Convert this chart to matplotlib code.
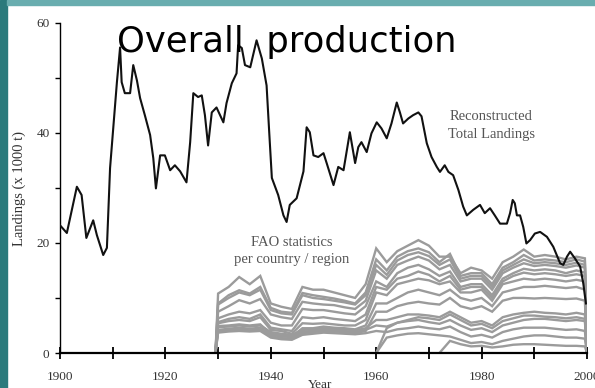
import numpy as np
import matplotlib
matplotlib.use("Agg")
import matplotlib.pyplot as plt
from matplotlib.patches import Rectangle

# reconstructed total landings (x 1000 t)
total_years = [1900, 1901.3, 1903.2, 1904.1, 1905, 1906.3, 1907, 1908.2, 1908.9, 1909.5,
               1910.1, 1910.8, 1911.4, 1911.7, 1912.3, 1913.3, 1913.9, 1914.6, 1915.2, 1916.1,
               1917.1, 1917.7, 1918.2, 1919, 1919.9, 1920.9, 1921.8, 1922.8, 1924, 1924.7,
               1925.3, 1926.2, 1926.9, 1927.5, 1928.1, 1928.8, 1929.7, 1931, 1931.6, 1932.6,
               1933.5, 1933.8, 1934.5, 1935.1, 1936.1, 1937.3, 1938.3, 1939.2, 1939.7, 1940.2,
               1941.4, 1942.4, 1943, 1943.6, 1944.9, 1946.2, 1946.8, 1947.4, 1948.1, 1949,
               1950, 1950.6, 1951.9, 1952.8, 1953.8, 1955, 1956, 1956.6, 1957.2, 1958.2,
               1959.1, 1960.1, 1961, 1962, 1962.9, 1963.9, 1964.5, 1965.1, 1966.1, 1967,
               1968, 1968.6, 1969.6, 1970.5, 1971.5, 1972.1, 1973, 1973.7, 1974.6, 1975.6,
               1976.5, 1977.2, 1978.4, 1979.7, 1980.6, 1981.6, 1982.5, 1983.5, 1984.8, 1985.4,
               1985.9, 1986.3, 1986.7, 1987.3, 1987.9, 1988.5, 1989.2, 1990.1, 1991.1, 1992.4,
               1993.6, 1994.9, 1995.5, 1996.2, 1996.8, 1997.7, 1998.7, 1999.3, 1999.8]
total_landings = [23.2, 21.8, 30.2, 28.7, 20.9, 24.1, 21.4, 17.8, 19.1, 33.6,
                  40.8, 49.2, 55.5, 49.2, 47.2, 47.2, 52.3, 49.5, 46.3, 43.2,
                  39.6, 35.4, 29.9, 35.9, 35.9, 33.2, 34.1, 33.0, 31.0, 38.3,
                  47.2, 46.5, 46.8, 43.2, 37.7, 43.7, 44.6, 41.9, 45.4, 49.0,
                  50.8, 55.9, 55.4, 52.3, 51.9, 56.8, 53.5, 48.6, 40.1, 31.8,
                  28.7, 25.0, 23.8, 26.9, 28.1, 33.0, 41.0, 40.1, 35.9, 35.6,
                  36.3, 34.5, 30.5, 33.8, 33.2, 40.1, 34.5, 37.4, 38.3, 36.5,
                  39.9, 41.9, 40.8, 39.0, 41.7, 45.5, 43.7, 41.7, 42.6, 43.2,
                  43.7, 43.0, 38.1, 35.6, 33.8, 32.9, 34.1, 32.9, 32.3, 29.6,
                  26.6, 25.0, 26.0, 26.9, 25.4, 26.3, 25.0, 23.5, 23.5, 25.4,
                  27.8, 27.2, 25.0, 25.0, 22.9, 19.9, 20.5, 21.7, 22.0, 21.1,
                  19.3, 16.3, 16.0, 17.5, 18.4, 17.2, 15.7, 12.6, 9.0]

# FAO statistics, one line per country / region
fao_years = [1929.5, 1930, 1932, 1934, 1936, 1938, 1940, 1942, 1944, 1946,
             1948, 1950, 1952, 1954, 1956, 1958, 1960, 1962, 1964, 1966,
             1968, 1970, 1972, 1974, 1976, 1978, 1980, 1982, 1984, 1986,
             1988, 1990, 1992, 1994, 1996, 1998, 1999.6, 2000]
nan = np.nan
fao_1 = [0, 10.8, 12.0, 13.8, 12.5, 14.0, 9.0, 8.4, 8.0, 12.0, 11.5, 11.5, 11.0, 10.5, 10.0, 12.5, 19.0, 16.5, 18.5,
         19.5, 20.5, 19.5, 17.5, 17.5, 14.5, 15.5, 15.0, 13.5, 16.5, 17.5, 18.8, 17.5, 17.8, 17.5, 17.0, 17.5, 17.2, 0]
fao_2 = [0, 9.0, 10.5, 11.4, 10.8, 12.0, 8.2, 7.5, 7.3, 10.9, 10.5, 10.2, 9.9, 9.5, 9.0, 11.0, 17.0, 15.0, 17.5,
         18.5, 19.0, 18.3, 16.5, 18.0, 14.0, 14.5, 14.5, 12.5, 15.5, 16.5, 17.8, 16.8, 17.0, 16.8, 16.5, 17.0, 16.6, 0]
fao_3 = [0, 8.8, 10.0, 11.0, 10.5, 11.5, 7.8, 7.2, 7.0, 10.5, 10.0, 9.8, 9.5, 9.2, 8.8, 10.5, 16.0, 14.2, 16.8,
         17.8, 18.3, 17.6, 16.0, 17.0, 13.5, 14.0, 14.0, 12.0, 15.0, 16.0, 17.0, 16.3, 16.5, 16.3, 16.0, 16.4, 16.0, 0]
fao_4 = [0, 7.5, 8.5, 9.6, 9.0, 9.8, 7.0, 6.5, 6.2, 9.3, 9.0, 8.8, 8.7, 8.3, 8.0, 9.5, 15.0, 13.5, 16.0,
         16.8, 17.5, 16.8, 15.2, 16.0, 13.0, 13.5, 13.5, 11.5, 14.5, 15.5, 16.3, 15.8, 16.0, 15.8, 15.5, 15.9, 15.5, 0]
fao_5 = [0, 6.3, 7.0, 7.5, 7.2, 7.8, 5.5, 5.0, 5.0, 8.0, 7.8, 7.8, 7.5, 7.2, 7.0, 8.5, 13.0, 12.0, 14.5,
         15.5, 16.0, 15.2, 14.0, 14.8, 12.0, 12.5, 12.5, 10.5, 13.5, 14.5, 15.3, 15.0, 15.2, 15.0, 14.5, 15.0, 14.6, 0]
fao_6 = [0, 5.6, 6.2, 6.5, 6.2, 7.0, 4.6, 4.3, 4.0, 6.5, 6.3, 6.5, 6.2, 6.0, 5.8, 7.0, 12.0, 11.5, 13.5,
         14.0, 14.8, 14.2, 13.0, 14.0, 11.5, 12.0, 12.0, 10.0, 13.0, 14.0, 14.6, 14.3, 14.5, 14.3, 14.0, 14.3, 14.0, 0]
fao_7 = [0, 5.4, 5.8, 6.0, 5.8, 6.5, 4.2, 4.0, 3.5, 5.4, 5.3, 5.4, 5.2, 5.0, 5.0, 6.0, 11.0, 10.5, 12.5,
         13.0, 13.5, 13.2, 12.5, 13.0, 11.0, 11.0, 11.5, 9.5, 12.5, 13.0, 13.5, 13.3, 13.5, 13.3, 13.0, 13.3, 13.0, 0]
fao_8 = [0, 4.9, 5.0, 5.2, 5.0, 5.2, 3.5, 3.2, 3.0, 4.5, 4.5, 4.8, 4.6, 4.5, 4.3, 5.0, 9.0, 9.0, 10.0,
         11.0, 11.5, 11.0, 10.5, 11.5, 10.0, 9.5, 10.0, 8.5, 11.0, 11.5, 12.0, 12.0, 12.2, 12.0, 11.8, 12.0, 11.5, 0]
fao_9 = [0, 4.0, 4.2, 4.3, 4.1, 4.3, 3.0, 2.7, 2.6, 3.6, 3.8, 4.0, 3.9, 3.8, 3.6, 4.0, 7.5, 7.5, 8.5,
         9.0, 9.3, 9.0, 8.8, 10.0, 8.5, 8.0, 8.5, 7.5, 9.5, 10.0, 10.0, 9.9, 10.0, 9.9, 9.8, 9.9, 9.5, 0]
fao_10 = [0, 4.7, 4.8, 5.0, 4.8, 5.0, 3.8, 3.5, 3.3, 4.2, 4.3, 4.5, 4.4, 4.3, 4.1, 4.5, 6.0, 6.0, 6.5,
          7.0, 7.0, 6.8, 6.5, 7.5, 6.5, 5.5, 5.8, 5.0, 6.5, 7.0, 7.3, 7.5, 7.3, 7.2, 7.0, 7.3, 7.0, 0]
fao_11 = [0, 4.2, 4.4, 4.6, 4.4, 4.6, 3.3, 3.0, 2.9, 3.9, 4.0, 4.2, 4.1, 4.0, 3.8, 4.2, 5.0, 4.8, 5.5,
          5.8, 6.0, 5.6, 5.3, 6.0, 5.0, 4.2, 4.5, 3.8, 5.0, 5.5, 6.0, 6.2, 6.2, 6.0, 5.8, 6.0, 5.8, 0]
fao_12 = [0, 3.7, 3.9, 4.0, 3.9, 4.0, 2.8, 2.5, 2.4, 3.3, 3.5, 3.7, 3.6, 3.5, 3.4, 3.6, 4.0, 3.8, 4.3,
          4.5, 4.8, 4.5, 4.3, 4.8, 3.8, 3.0, 3.3, 2.8, 3.8, 4.3, 4.6, 4.6, 4.6, 4.4, 4.2, 4.3, 4.0, 0]
fao_13 = [nan] * 16 + [0, 4.5, 5.5, 6.0, 6.5, 6.3, 6.0, 7.0, 6.0, 5.0, 5.3,
                       4.5, 5.8, 6.3, 6.8, 6.8, 6.6, 6.5, 6.3, 6.5, 6.2, 0]
fao_14 = [nan] * 16 + [0, 2.8, 3.2, 3.5, 3.6, 3.4, 3.2, 3.0, 2.4, 1.8, 2.0,
                       1.6, 2.2, 2.6, 3.0, 3.2, 3.2, 3.0, 2.8, 2.8, 2.6, 0]
fao_15 = [nan] * 22 + [0, 2.2, 1.6, 1.2, 1.3, 1.0, 1.2, 1.5, 1.6, 1.6, 1.5, 1.4, 1.3, 1.3, 1.2, 0]

fao_series = [fao_1, fao_2, fao_3, fao_4, fao_5, fao_6, fao_7, fao_8,
              fao_9, fao_10, fao_11, fao_12, fao_13, fao_14, fao_15]

W, H = 595, 388
fig = plt.figure(figsize=(W / 100, H / 100), dpi=100)
fig.patch.set_facecolor("white")

# slide frame
fig.patches.append(Rectangle((0, 0), 7 / W, 1, transform=fig.transFigure,
                             color="#2b7a7c", zorder=0))
fig.patches.append(Rectangle((7 / W, 1 - 5 / H), 1, 5 / H, transform=fig.transFigure,
                             color="#69adaf", zorder=0))

ax = fig.add_axes([60 / W, 35 / H, 527 / W, 330.3 / H])
ax.set_facecolor("none")

for s in fao_series:
    ax.plot(fao_years, s, color="#9b9b9b", lw=1.7, solid_joinstyle="miter")
ax.plot(total_years, total_landings, color="#111111", lw=1.5, zorder=5)

ax.set_xlim(1900, 2000)
ax.set_ylim(0, 60)
for side in ("top", "right"):
    ax.spines[side].set_visible(False)
ax.spines["left"].set_linewidth(1.0)
ax.spines["bottom"].set_linewidth(1.6)

serif = "Liberation Serif"
ax.set_xticks(range(1900, 2001, 10))
ax.set_xticklabels([str(y) if y % 20 == 0 else "" for y in range(1900, 2001, 10)],
                   family=serif, fontsize=9.5, color="#333333")
ax.set_yticks([0, 20, 40, 60])
ax.set_yticks([10, 30, 50], minor=True)
ax.set_yticklabels(["0", "20", "40", "60"], family=serif, fontsize=9.5, color="#333333")
ax.tick_params(axis="x", direction="inout", length=8, width=1.3, pad=9)
ax.tick_params(axis="y", which="both", direction="out", length=3.5, width=1.0, pad=4)

fig.text(19 / W, 1 - 188 / H, "Landings (x 1000 t)", rotation=90, ha="center", va="center",
         family=serif, fontsize=10.5, color="#333333")
fig.text(320 / W, 1 - 379 / H, "Year", ha="center", va="top",
         family=serif, fontsize=9.5, color="#333333")

ax.text(1981.8, 41.3, "Reconstructed\nTotal Landings", ha="center", va="center",
        family=serif, fontsize=10.5, color="#555555", linespacing=1.45)
ax.text(1944.0, 18.5, "FAO statistics\nper country / region", ha="center", va="center",
        family=serif, fontsize=10.5, color="#555555", linespacing=1.45)

fig.text(117 / W, 1 - 52 / H, "Overall  production", ha="left", va="baseline",
         family="DejaVu Sans", fontsize=25.5, color="black", zorder=10)

fig.savefig("out.png", dpi=100)
